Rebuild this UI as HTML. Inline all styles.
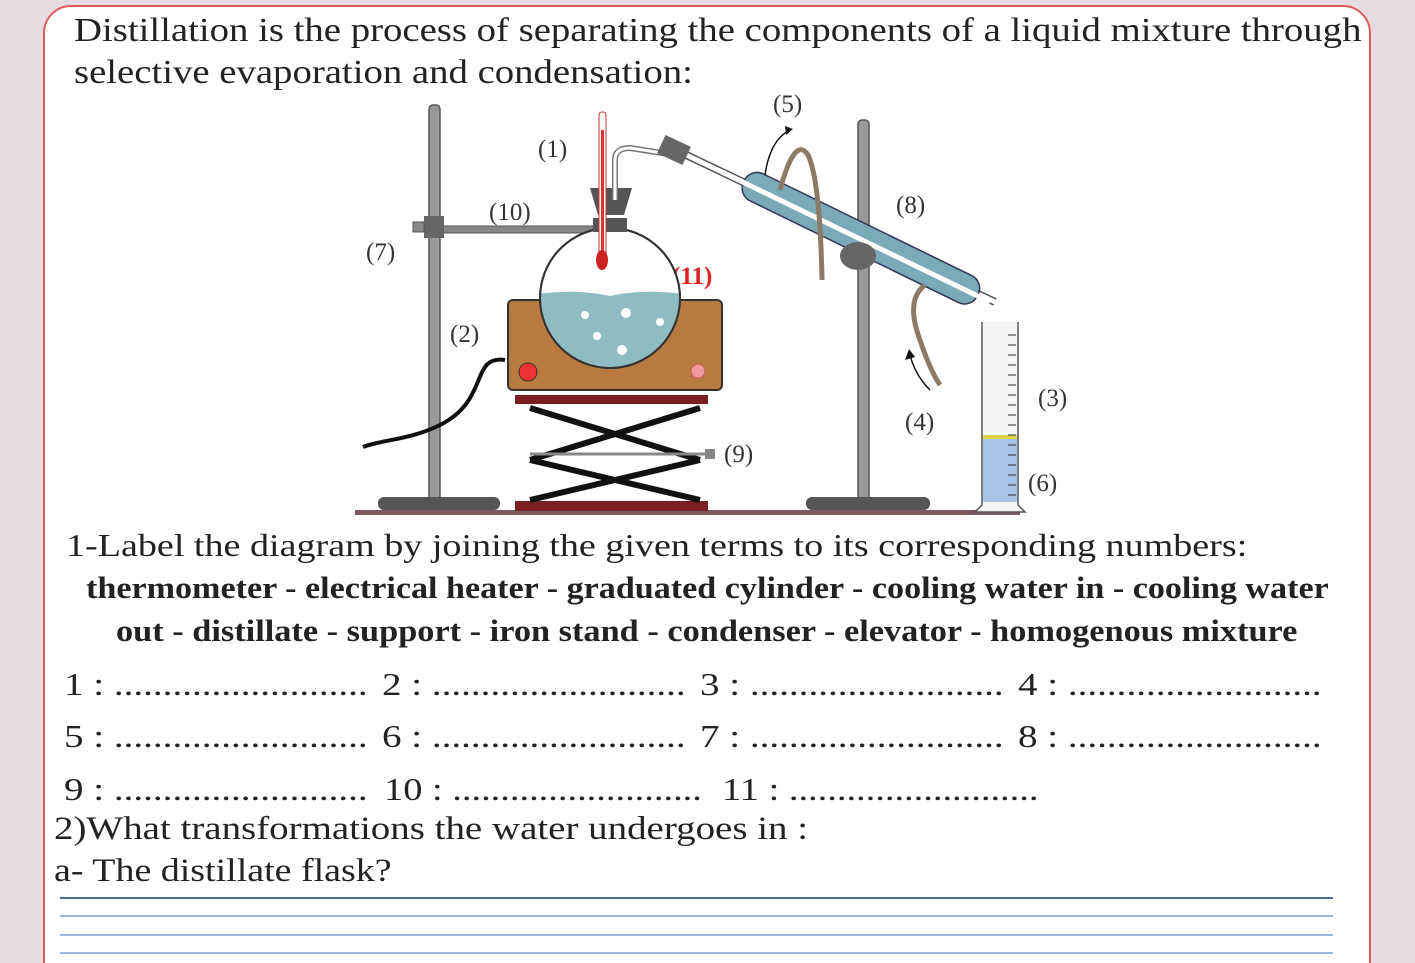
<!DOCTYPE html>
<html><head><meta charset="utf-8"><style>
html,body{margin:0;width:1415px;height:963px;overflow:hidden}
body{background:#e6dde3;position:relative;font-family:"Liberation Serif",serif;color:#222}
.box{position:absolute;left:43px;top:5px;width:1324px;height:1000px;background:#fff;border:2px solid #e05a5a;border-radius:28px}
.t{position:absolute;white-space:nowrap;line-height:1;transform-origin:0 0}
</style></head><body>
<div class="box"></div>
<div class="t" style="left:74px;top:14px;font-size:34px;transform:scaleX(1.14)">Distillation is the process of separating the components of a liquid mixture through</div>
<div class="t" style="left:74px;top:56px;font-size:34px;transform:scaleX(1.14)">selective evaporation and condensation:</div>

<svg style="position:absolute;left:0;top:0" width="1415" height="963">
<defs><clipPath id="fc"><circle cx="610" cy="298" r="69"/></clipPath></defs>
<g font-family="Liberation Serif" font-size="25" fill="#333">
<text x="773" y="112">(5)</text><text x="538" y="157">(1)</text><text x="489" y="220">(10)</text>
<text x="366" y="260">(7)</text><text x="896" y="213">(8)</text><text x="450" y="342">(2)</text>
<text x="905" y="430">(4)</text><text x="1038" y="406">(3)</text><text x="724" y="462">(9)</text>
<text x="1028" y="491">(6)</text>
<text x="672" y="284" fill="#d22" font-weight="bold">(11)</text>
</g>
<rect x="355" y="510" width="665" height="5" fill="#7a5a5e"/>
<rect x="429" y="105" width="11" height="395" fill="#999" stroke="#555" stroke-width="1.5" rx="4"/>
<rect x="378" y="497" width="122" height="13" rx="6" fill="#555"/>
<rect x="440" y="226" width="160" height="7" fill="#888" stroke="#555"/>
<rect x="424" y="216" width="20" height="22" fill="#666"/>
<rect x="413" y="222" width="11" height="10" fill="#888" stroke="#555"/>
<rect x="858" y="120" width="11" height="380" fill="#999" stroke="#555" stroke-width="1.5" rx="4"/>
<rect x="806" y="497" width="124" height="13" rx="6" fill="#555"/>
<rect x="515" y="395" width="193" height="9" fill="#7a1e22"/>
<rect x="515" y="501" width="193" height="10" fill="#7a1e22"/>
<g stroke="#111" stroke-width="6">
<line x1="530" y1="408" x2="700" y2="460"/><line x1="700" y1="408" x2="530" y2="460"/>
<line x1="530" y1="460" x2="700" y2="500"/><line x1="700" y1="460" x2="530" y2="500"/>
</g>
<line x1="530" y1="454" x2="705" y2="454" stroke="#888" stroke-width="3"/>
<rect x="705" y="449" width="10" height="10" fill="#888"/>
<rect x="508" y="300" width="214" height="90" rx="5" fill="#b87a3e" stroke="#333" stroke-width="2"/>
<circle cx="528" cy="372" r="9" fill="#e33" stroke="#333"/>
<circle cx="698" cy="371" r="7" fill="#e99" stroke="#c55"/>
<path d="M505 360 C470 355 490 400 440 425 C410 440 380 440 363 447" stroke="#111" stroke-width="4" fill="none"/>
<circle cx="610" cy="298" r="70" fill="#fff" stroke="#333" stroke-width="2"/>
<path clip-path="url(#fc)" d="M530 295 Q575 288 610 296 Q645 288 690 295 L690 380 L530 380Z" fill="#8fbcc0"/>
<circle cx="610" cy="298" r="70" fill="none" stroke="#333" stroke-width="2"/>
<g fill="#fff"><circle cx="585" cy="315" r="4"/><circle cx="626" cy="313" r="5"/><circle cx="597" cy="336" r="4"/><circle cx="622" cy="350" r="5"/><circle cx="660" cy="322" r="4"/></g>
<rect x="593" y="218" width="34" height="14" fill="#555"/>
<path d="M590 188 L632 188 L624 215 L598 215Z" fill="#555"/>
<rect x="599" y="112" width="7" height="150" rx="3" fill="#fff" stroke="#c33"/>
<rect x="601" y="130" width="3" height="130" fill="#d33"/>
<ellipse cx="602" cy="260" rx="6" ry="10" fill="#c22"/>
<path d="M615 200 L615 160 Q615 148 630 148 L675 155" stroke="#777" stroke-width="6" fill="none"/>
<path d="M615 200 L615 160 Q615 148 630 148 L675 155" stroke="#fff" stroke-width="3" fill="none"/>
<path d="M680 152 L995 302" stroke="#555" stroke-width="8"/>
<path d="M680 152 L995 302" stroke="#fff" stroke-width="5"/>
<rect x="660" y="140" width="28" height="20" transform="rotate(25 674 150)" fill="#666"/>
<g transform="rotate(26 860 240)"><rect x="730" y="223" width="260" height="30" rx="14" fill="#7aa9b8" stroke="#335" stroke-width="1.5"/></g>
<path d="M722 172 L990 302" stroke="#fff" stroke-width="5"/>
<ellipse cx="858" cy="256" rx="18" ry="14" fill="#666"/>
<path d="M780 190 Q795 135 808 155 Q820 180 822 280" stroke="#8a7a66" stroke-width="5" fill="none"/>
<path d="M925 285 Q905 300 920 340 Q930 370 940 385" stroke="#8a7a66" stroke-width="5" fill="none"/>
<path d="M765 175 Q770 140 790 130" stroke="#111" stroke-width="1.5" fill="none"/><path d="M785 126 L793 129 L786 135Z" fill="#111"/>
<path d="M930 390 Q915 375 910 355" stroke="#111" stroke-width="1.5" fill="none"/><path d="M905 360 L909 349 L915 357Z" fill="#111"/>
<path d="M982 322 L982 505 L975 512 L1025 512 L1018 505 L1018 322" fill="#f4f6f4" stroke="#555" stroke-width="1.5"/>
<rect x="983" y="438" width="34" height="64" fill="#a6c5e6"/>
<rect x="983" y="435" width="34" height="4" fill="#dcd24a"/>
<g stroke="#333" stroke-width="1"><path d="M1008 335 H1016 M1008 345 H1016 M1008 355 H1016 M1008 365 H1016 M1008 375 H1016 M1008 385 H1016 M1008 395 H1016 M1008 405 H1016 M1008 415 H1016 M1008 425 H1016 M1008 435 H1016 M1008 445 H1016 M1008 455 H1016 M1008 465 H1016 M1008 475 H1016 M1008 485 H1016 M1008 495 H1016"/></g>
<rect x="60" y="897" width="1273" height="2" fill="#4c6b93"/>
<rect x="60" y="915" width="1273" height="2" fill="#9dbbe0"/>
<rect x="60" y="934" width="1273" height="2" fill="#9dbbe0"/>
<rect x="60" y="952" width="1273" height="2" fill="#9dbbe0"/>
</svg>

<div class="t" style="left:66px;top:529px;font-size:32px;transform:scaleX(1.19)">1-Label the diagram by joining the given terms to its corresponding numbers:</div>
<div class="t" style="left:86px;top:572px;font-size:31px;font-weight:bold;transform:scaleX(1.10)">thermometer - electrical heater - graduated cylinder - cooling water in - cooling water</div>
<div class="t" style="left:116px;top:615px;font-size:31px;font-weight:bold;transform:scaleX(1.107)">out - distillate - support - iron stand - condenser - elevator - homogenous mixture</div>
<div class="t" style="left:64px;top:668px;font-size:32px;transform:scaleX(1.22)">1 : ..........................</div>
<div class="t" style="left:382px;top:668px;font-size:32px;transform:scaleX(1.22)">2 : ..........................</div>
<div class="t" style="left:700px;top:668px;font-size:32px;transform:scaleX(1.22)">3 : ..........................</div>
<div class="t" style="left:1018px;top:668px;font-size:32px;transform:scaleX(1.22)">4 : ..........................</div>
<div class="t" style="left:64px;top:720px;font-size:32px;transform:scaleX(1.22)">5 : ..........................</div>
<div class="t" style="left:382px;top:720px;font-size:32px;transform:scaleX(1.22)">6 : ..........................</div>
<div class="t" style="left:700px;top:720px;font-size:32px;transform:scaleX(1.22)">7 : ..........................</div>
<div class="t" style="left:1018px;top:720px;font-size:32px;transform:scaleX(1.22)">8 : ..........................</div>
<div class="t" style="left:64px;top:773px;font-size:32px;transform:scaleX(1.22)">9 : ..........................</div>
<div class="t" style="left:384px;top:773px;font-size:32px;transform:scaleX(1.2)">10 : ..........................</div>
<div class="t" style="left:722px;top:773px;font-size:32px;transform:scaleX(1.2)">11 : ..........................</div>
<div class="t" style="left:54px;top:813px;font-size:33px;transform:scaleX(1.18)">2)What transformations the water undergoes in :</div>
<div class="t" style="left:54px;top:855px;font-size:33px;transform:scaleX(1.15)">a- The distillate flask?</div>
</body></html>
